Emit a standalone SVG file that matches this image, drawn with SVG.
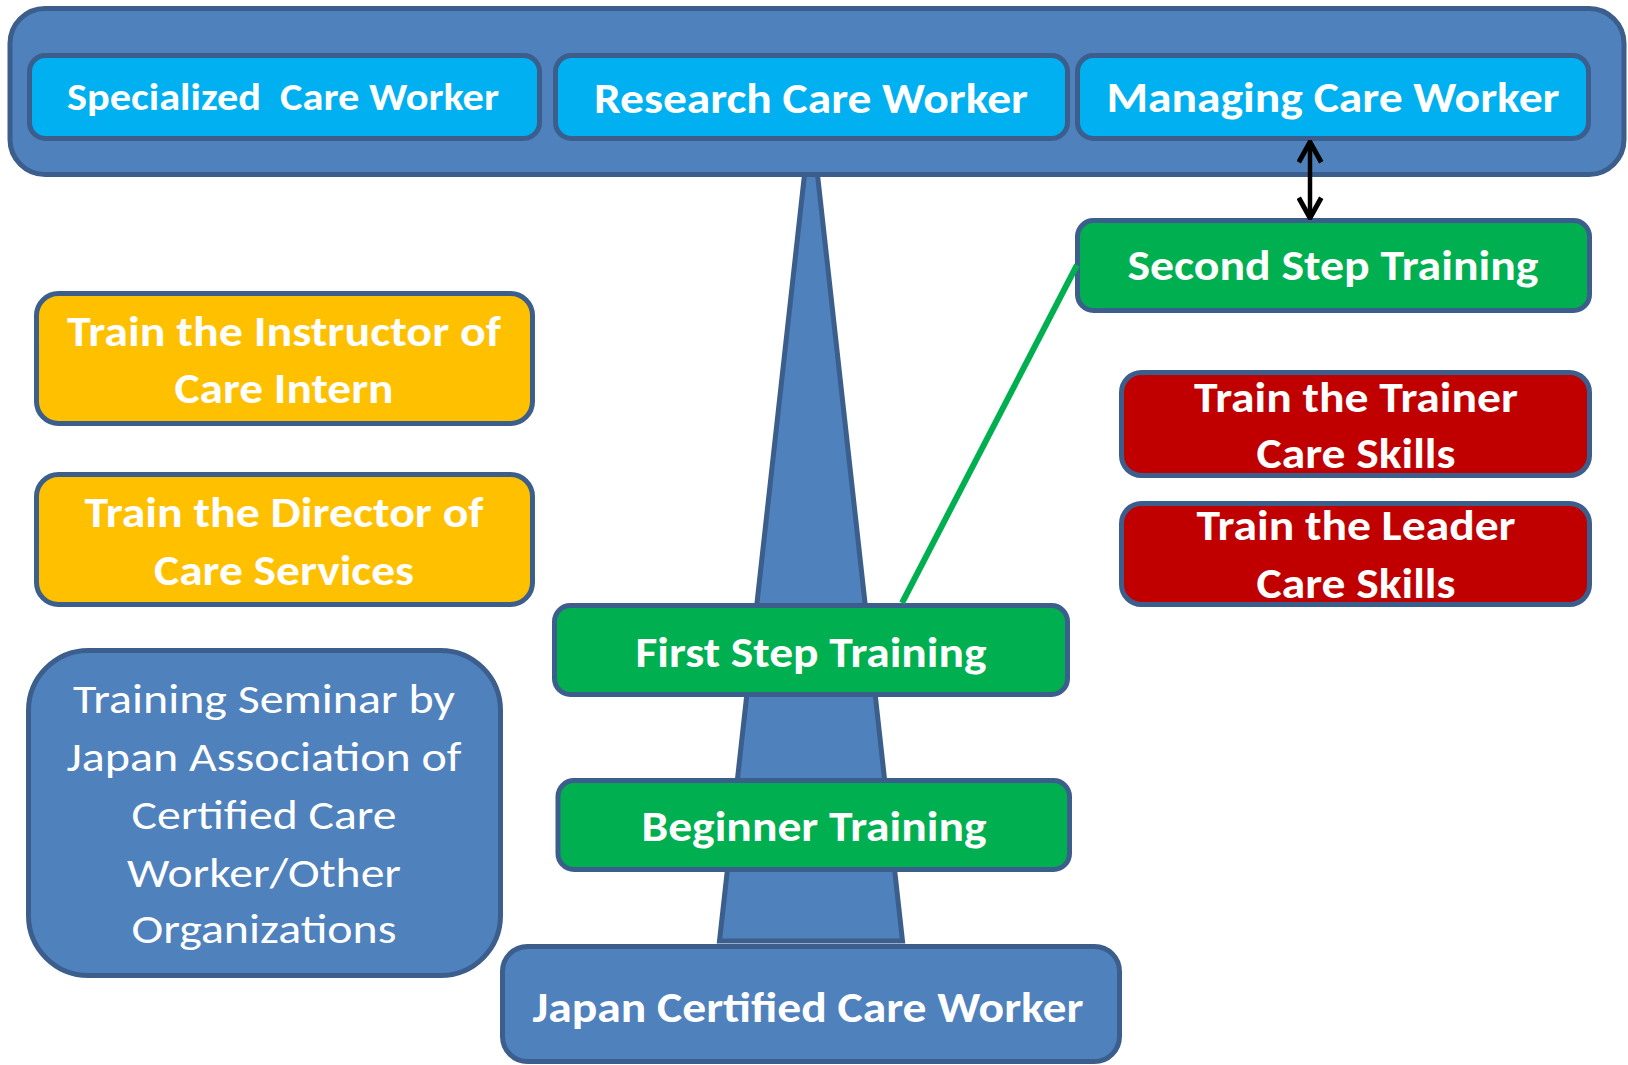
<svg xmlns="http://www.w3.org/2000/svg" width="1628" height="1065" viewBox="0 0 1628 1065">
<style>
.blue{fill:#4F81BD;stroke:#3B5E8C;stroke-width:5}
.cyan{fill:#00B0F0;stroke:#3B5E8C;stroke-width:5}
.green{fill:#00B050;stroke:#3B5E8C;stroke-width:5}
.yellow{fill:#FFC000;stroke:#3B5E8C;stroke-width:5}
.red{fill:#C00000;stroke:#3B5E8C;stroke-width:5}
text{font-family:Carlito,Lato,"Open Sans",sans-serif;fill:#FFFFFF;text-anchor:middle}
.b{font-weight:bold;font-size:42px}
.r{font-weight:normal;font-size:41px}
</style>
<defs>
<marker id="arr" viewBox="0 0 12 12" refX="11" refY="6" markerWidth="6" markerHeight="6" orient="auto-start-reverse" markerUnits="strokeWidth">
<polyline points="2,1 11,6 2,11" fill="none" stroke="#000" stroke-width="2.2" stroke-linejoin="miter"/>
</marker>
</defs>
<g id="pyramid">
<polygon class="blue" points="811,116 719.5,941 902.5,941" stroke-linejoin="miter"/>
</g>
<g id="top-container">
<rect class="blue" x="10" y="8.5" width="1614" height="166" rx="35"/>
</g>
<g id="specialized">
<rect class="cyan" x="29.5" y="55.5" width="510" height="83" rx="16"/>
<text class="b" x="283" y="110" style="font-size:39px" xml:space="preserve" textLength="432" lengthAdjust="spacingAndGlyphs">Specialized  Care Worker</text>
</g>
<g id="research">
<rect class="cyan" x="555.5" y="55.5" width="512" height="83" rx="16"/>
<text class="b" x="811" y="113" textLength="434" lengthAdjust="spacingAndGlyphs">Research Care Worker</text>
</g>
<g id="managing">
<rect class="cyan" x="1077.5" y="55.5" width="511" height="83" rx="16"/>
<text class="b" x="1333" y="112" textLength="453" lengthAdjust="spacingAndGlyphs">Managing Care Worker</text>
</g>
<g id="second-step">
<rect class="green" x="1077.5" y="220.5" width="512" height="90" rx="16"/>
<text class="b" x="1333" y="280" textLength="411" lengthAdjust="spacingAndGlyphs">Second Step Training</text>
</g>
<g id="instructor">
<rect class="yellow" x="36.5" y="293.5" width="496" height="130" rx="22"/>
<text class="b" x="284" y="346" textLength="434" lengthAdjust="spacingAndGlyphs">Train the Instructor of</text>
<text class="b" x="284" y="403" textLength="219" lengthAdjust="spacingAndGlyphs">Care Intern</text>
</g>
<g id="director">
<rect class="yellow" x="36.5" y="474.5" width="496" height="130" rx="22"/>
<text class="b" x="284" y="527" textLength="399" lengthAdjust="spacingAndGlyphs">Train the Director of</text>
<text class="b" x="284" y="585" textLength="260" lengthAdjust="spacingAndGlyphs">Care Services</text>
</g>
<g id="trainer">
<rect class="red" x="1121.5" y="372.5" width="468" height="103" rx="20"/>
<text class="b" x="1356" y="412" textLength="324" lengthAdjust="spacingAndGlyphs">Train the Trainer</text>
<text class="b" x="1356" y="468" textLength="199" lengthAdjust="spacingAndGlyphs">Care Skills</text>
</g>
<g id="leader">
<rect class="red" x="1121.5" y="503.5" width="468" height="101" rx="20"/>
<text class="b" x="1356" y="540" textLength="319" lengthAdjust="spacingAndGlyphs">Train the Leader</text>
<text class="b" x="1356" y="598" textLength="199" lengthAdjust="spacingAndGlyphs">Care Skills</text>
</g>
<g id="first-step">
<rect class="green" x="554.5" y="605.5" width="513" height="89" rx="16"/>
<text class="b" x="811" y="667" textLength="351" lengthAdjust="spacingAndGlyphs">First Step Training</text>
</g>
<g id="beginner">
<rect class="green" x="558" y="780.5" width="511.5" height="89" rx="16"/>
<text class="b" x="814" y="841" textLength="345" lengthAdjust="spacingAndGlyphs">Beginner Training</text>
</g>
<g id="seminar">
<rect class="blue" x="28.5" y="650.5" width="472" height="325" rx="60"/>
<text class="r" x="264" y="713" textLength="382" lengthAdjust="spacingAndGlyphs">Training Seminar by</text>
<text class="r" x="264" y="771" textLength="395" lengthAdjust="spacingAndGlyphs">Japan Association of</text>
<text class="r" x="264" y="829" textLength="265" lengthAdjust="spacingAndGlyphs">Certified Care</text>
<text class="r" x="264" y="887" textLength="274" lengthAdjust="spacingAndGlyphs">Worker/Other</text>
<text class="r" x="264" y="943" textLength="265" lengthAdjust="spacingAndGlyphs">Organizations</text>
</g>
<g id="certified">
<rect class="blue" x="502.5" y="946.5" width="617" height="115" rx="25"/>
<text class="b" x="808" y="1022" textLength="551" lengthAdjust="spacingAndGlyphs">Japan Certified Care Worker</text>
</g>
<g id="connectors">
<line x1="1310" y1="142" x2="1310" y2="218" stroke="#000" stroke-width="4.5" marker-start="url(#arr)" marker-end="url(#arr)"/>
<line x1="1077" y1="265" x2="902" y2="603" stroke="#00B050" stroke-width="6"/>
</g>
</svg>
